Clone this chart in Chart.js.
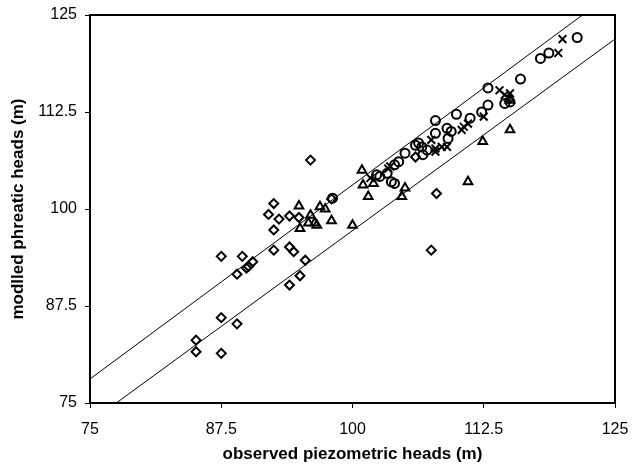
<!DOCTYPE html>
<html>
<head>
<meta charset="utf-8">
<script src="https://cdn.jsdelivr.net/npm/chart.js@4"></script>
<style>
  html, body { margin: 0; padding: 0; background: #fff; }
  #wrap { width: 633px; height: 465px; }
</style>
</head>
<body>
<div id="wrap"><canvas id="chartHeads"></canvas></div>
<script>
// observed (x) vs modelled (y) heads in m, one list per marker group
const diamonds = [
  [85.1, 83.1], [85.1, 81.6], [87.5, 81.4], [87.5, 86.0], [89.0, 85.2],
  [87.5, 93.9], [89.5, 93.9], [89.0, 91.6], [89.9, 92.4], [90.1, 92.6],
  [90.5, 93.2], [92.5, 94.7], [92.5, 97.3], [94.0, 95.1], [94.4, 94.5],
  [95.5, 93.4], [95.0, 91.4], [94.0, 90.2], [92.5, 100.7], [92.0, 99.3],
  [93.0, 98.7], [94.0, 99.1], [94.9, 98.9], [98.0, 101.3], [96.0, 106.3],
  [108.0, 102.0], [107.5, 94.7], [106.0, 106.7]
];
const triangles = [
  [94.9, 100.4], [96.0, 99.2], [95.0, 97.5], [95.8, 98.2], [96.4, 98.2],
  [96.9, 100.3], [97.4, 100.0], [98.0, 98.5], [96.6, 97.9], [100.0, 97.9],
  [100.9, 105.0], [101.0, 103.1], [101.5, 101.6], [102.0, 103.3], [105.0, 102.7],
  [104.7, 101.6], [111.0, 103.5], [112.4, 108.7], [115.0, 110.2], [115.0, 114.0]
];
const circles = [
  [98.1, 101.4], [102.3, 104.4], [102.6, 104.2], [103.3, 104.6], [103.7, 103.5],
  [104.0, 103.3], [104.0, 105.7], [104.4, 106.1], [105.0, 107.2], [106.0, 108.2],
  [106.3, 108.5], [106.6, 108.0], [106.7, 107.0], [107.1, 107.6], [107.9, 109.75],
  [107.9, 111.4], [109.0, 110.4], [109.4, 110.0], [109.1, 109.1], [109.9, 112.2],
  [111.2, 111.7], [112.3, 112.5], [112.9, 113.4], [112.9, 115.6], [114.5, 113.6],
  [115.0, 113.8], [116.0, 116.75], [117.9, 119.4], [118.7, 120.1], [121.4, 122.1]
];
const crosses = [
  [101.7, 104.0], [103.4, 105.2], [103.6, 105.5], [107.5, 108.9], [107.9, 107.4],
  [108.5, 108.0], [107.9, 107.8], [109.0, 108.0], [110.4, 110.2], [110.6, 110.6],
  [111.0, 111.0], [112.5, 111.9], [114.0, 115.3], [114.5, 114.7], [115.0, 114.9],
  [114.8, 114.3], [119.6, 120.1], [120.0, 121.9]
];
// the two band lines
const upperLine = [[75, 78.1], [121.9, 125]];
const lowerLine = [[77.5, 75], [125, 121.9]];
const axisTicks = [75, 87.5, 100, 112.5, 125];

const toXY = arr => arr.map(p => ({ x: p[0], y: p[1] }));
const font = '"Liberation Sans", Arial, sans-serif';

function markers(data, style, radius) {
  return {
    data: toXY(data),
    pointStyle: style,
    pointRadius: radius,
    pointHoverRadius: radius,
    pointBorderWidth: 2,
    pointBorderColor: '#000',
    pointBackgroundColor: 'rgba(0,0,0,0)',
    borderColor: '#000',
    showLine: false
  };
}
function bandLine(data) {
  return {
    data: toXY(data),
    showLine: true,
    borderColor: '#000',
    borderWidth: 1,
    pointRadius: 0,
    fill: false
  };
}

// black frame around the plot area
const frame = {
  id: 'frame',
  afterDraw(chart) {
    const a = chart.chartArea, c = chart.ctx;
    c.save();
    c.strokeStyle = '#000';
    c.lineWidth = 2;
    c.strokeRect(a.left, a.top, a.right - a.left, a.bottom - a.top);
    c.restore();
  }
};

const ctx = document.getElementById('chartHeads');
new Chart(ctx, {
  type: 'scatter',
  data: {
    datasets: [
      bandLine(upperLine),
      bandLine(lowerLine),
      markers(diamonds, 'rectRot', 4.5),
      markers(triangles, 'triangle', 5),
      markers(circles, 'circle', 4.5),
      markers(crosses, 'crossRot', 5.5)
    ]
  },
  options: {
    responsive: true,
    maintainAspectRatio: false,
    animation: false,
    layout: { padding: { top: 15, right: 18, left: 0, bottom: 0 } },
    plugins: { legend: { display: false }, tooltip: { enabled: false } },
    scales: {
      x: {
        type: 'linear',
        min: 75, max: 125,
        afterBuildTicks: s => { s.ticks = axisTicks.map(v => ({ value: v })); },
        afterFit: s => { s.height = 62; s.paddingLeft = 0; s.paddingRight = 0; },
        grid: { drawOnChartArea: false, drawTicks: true, tickLength: 5, color: '#000', lineWidth: 1 },
        border: { display: true, color: '#000', width: 2 },
        ticks: { color: '#000', font: { family: font, size: 16 }, padding: 12, maxRotation: 0 },
        title: { display: true, text: 'observed piezometric heads (m)', color: '#000',
                 font: { family: font, size: 17, weight: 'bold' }, padding: { top: 0, bottom: 0 } }
      },
      y: {
        type: 'linear',
        min: 75, max: 125,
        afterBuildTicks: s => { s.ticks = axisTicks.map(v => ({ value: v })); },
        afterFit: s => { s.width = 90; s.paddingTop = 0; s.paddingBottom = 0; },
        grid: { drawOnChartArea: false, drawTicks: true, tickLength: 5, color: '#000', lineWidth: 1 },
        border: { display: true, color: '#000', width: 2 },
        ticks: { color: '#000', font: { family: font, size: 16 }, padding: 8 },
        title: { display: true, text: 'modlled phreatic heads (m)', color: '#000',
                 font: { family: font, size: 17, weight: 'bold' }, padding: { top: 8, bottom: 0 } }
      }
    }
  },
  plugins: [frame]
});
</script>
</body>
</html>
